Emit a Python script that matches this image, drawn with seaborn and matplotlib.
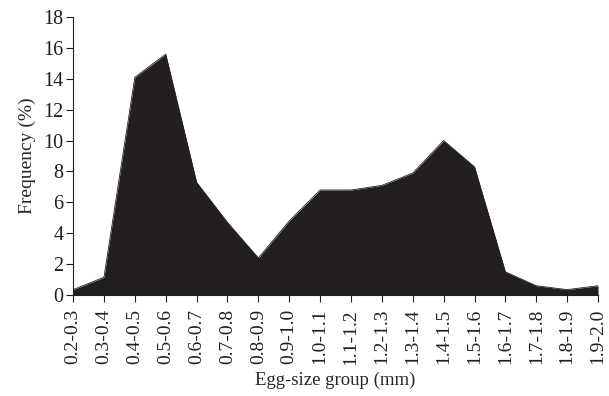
import matplotlib
matplotlib.use("Agg")
import matplotlib.pyplot as plt
import seaborn as sns
import numpy as np
import pandas as pd

groups = ["0.2-0.3", "0.3-0.4", "0.4-0.5", "0.5-0.6", "0.6-0.7", "0.7-0.8",
          "0.8-0.9", "0.9-1.0", "1.0-1.1", "1.1-1.2", "1.2-1.3", "1.3-1.4",
          "1.4-1.5", "1.5-1.6", "1.6-1.7", "1.7-1.8", "1.8-1.9", "1.9-2.0"]
frequency = [0.35, 1.15, 14.1, 15.6, 7.3, 4.7, 2.4, 4.8, 6.8, 6.8, 7.1, 7.9,
             10.0, 8.3, 1.5, 0.6, 0.35, 0.6]
y_ticks = [0, 2, 4, 6, 8, 10, 12, 14, 16, 18]

sns.set_style("ticks")
plt.rcParams["font.family"] = ["Liberation Serif", "DejaVu Serif"]

df = pd.DataFrame({"pos": np.arange(len(groups)), "freq": frequency})

fig = plt.figure(figsize=(6.09, 3.96), dpi=100)
ax = fig.add_axes([0.12, 0.255, 0.862, 0.702])

fill_color = "#231f20"
sns.lineplot(data=df, x="pos", y="freq", color=fill_color, linewidth=0.6, ax=ax)
ax.fill_between(df["pos"], 0, df["freq"], color=fill_color, linewidth=0)

ax.set_xlim(0, len(groups) - 1)
ax.set_ylim(0, 18)
ax.set_xticks(df["pos"])
ax.set_xticklabels(groups, rotation=90, fontsize=14)
ax.set_yticks(y_ticks)
ax.set_yticklabels([str(t) for t in y_ticks], fontsize=14.5)
ax.set_xlabel("Egg-size group (mm)", fontsize=13.5, labelpad=5)
ax.set_ylabel("Frequency (%)", fontsize=14, labelpad=5)

for side in ("top", "right"):
    ax.spines[side].set_visible(False)
for side in ("left", "bottom"):
    ax.spines[side].set_linewidth(0.8)
    ax.spines[side].set_color("#231f20")
ax.tick_params(axis="both", direction="out", length=5, width=0.8,
               color="#231f20", labelcolor="#231f20", pad=2)
ax.tick_params(axis="x", pad=5)

fig.savefig("out.png", dpi=100)
